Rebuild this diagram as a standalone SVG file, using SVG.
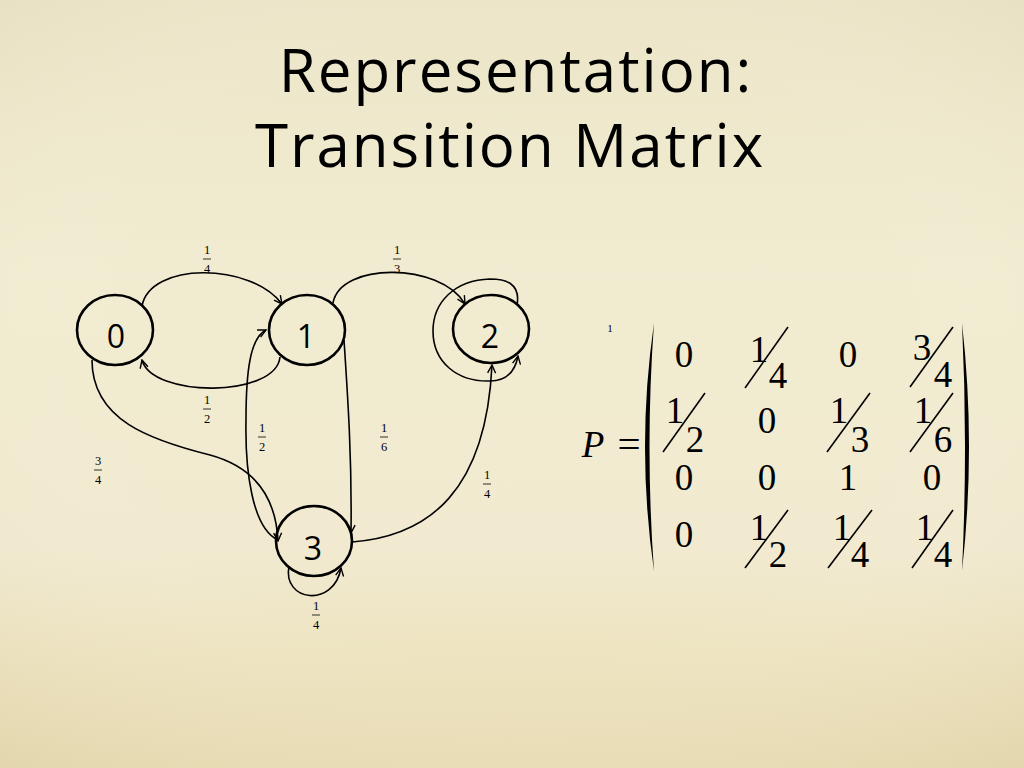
<svg xmlns="http://www.w3.org/2000/svg" width="1024" height="768" viewBox="0 0 1024 768">
<defs>
<linearGradient id="bg" x1="0" y1="0" x2="0" y2="1">
<stop offset="0" stop-color="#ece5c8"/>
<stop offset="0.35" stop-color="#f1ecd1"/>
<stop offset="0.72" stop-color="#f1ead0"/>
<stop offset="0.86" stop-color="#ede3bf"/>
<stop offset="1" stop-color="#e8dcb3"/>
</linearGradient>
<radialGradient id="vig" cx="0.5" cy="0.45" r="0.75">
<stop offset="0.5" stop-color="#ffffff" stop-opacity="0"/>
<stop offset="1" stop-color="#cdbd8e" stop-opacity="0.2"/>
</radialGradient>
<marker id="arr" viewBox="0 0 10 10" refX="9" refY="5" markerWidth="10" markerHeight="10" markerUnits="userSpaceOnUse" orient="auto">
<path d="M1,1 L9,5 L1,9" fill="none" stroke="#000" stroke-width="1.4"/>
</marker>
<style>
.node ellipse{fill:none;stroke:#000;stroke-width:2.6}
.node text{font-family:"Open Sans","Noto Sans",sans-serif;font-size:32px;text-anchor:middle;fill:#000}
.edge{fill:none;stroke:#000;stroke-width:1.6;marker-end:url(#arr)}
.lbl text{font-family:"Liberation Serif",serif;font-size:12.5px;text-anchor:middle;fill:#000}
.lbl line{stroke:#000;stroke-width:0.8}
.title{font-family:"Open Sans","Noto Sans",sans-serif;font-size:60px;letter-spacing:2px;text-anchor:middle;fill:#000}
.m{font-family:"Liberation Serif",serif;font-size:37px;text-anchor:middle;fill:#000}
.sl{stroke:#000;stroke-width:1.6}
</style>
</defs>
<rect width="1024" height="768" fill="url(#bg)"/>
<rect width="1024" height="768" fill="url(#vig)"/>

<text class="title" x="516" y="92">Representation:</text>
<text class="title" x="510" y="167">Transition Matrix</text>

<g id="connectors">
<path class="edge" d="M142,306 C150,262 250,262 282,304"/>
<path class="edge" d="M280,357 C276,398 152,398 142,360"/>
<path class="edge" d="M333,303 C340,262 440,262 465,304"/>
<path class="edge" d="M517,305 C521,283 505,279 490,279 C455,280 433,302 433,331 C433,362 457,382 490,381 C506,381 515,372 518,356"/>
<path class="edge" d="M344,340 C348,400 352,460 351,533"/>
<path class="edge" d="M278,540 C252,528 245,470 246,420 C246,372 250,338 266,330"/>
<path class="edge" d="M92,360 C92,420 150,440 210,455 C258,468 276,500 278,541"/>
<path class="edge" d="M352,542 C430,536 486,490 492,365"/>
<path class="edge" d="M289,566 C282,602 334,608 341,568"/>
</g>

<g id="node0" class="node"><ellipse cx="115" cy="330" rx="38" ry="35"/><text x="116" y="348">0</text></g>
<g id="node1" class="node"><ellipse cx="307" cy="330" rx="38" ry="35"/><text x="306" y="348">1</text></g>
<g id="node2" class="node"><ellipse cx="491" cy="329" rx="38" ry="34"/><text x="490" y="348">2</text></g>
<g id="node3" class="node"><ellipse cx="314" cy="541" rx="38" ry="35"/><text x="313" y="560">3</text></g>

<g id="labels" class="lbl">
<g><text x="207" y="254">1</text><line x1="203" y1="259" x2="211" y2="259"/><text x="207" y="273">4</text></g>
<g><text x="397" y="254">1</text><line x1="393" y1="259" x2="401" y2="259"/><text x="397" y="273">3</text></g>
<g><text x="207" y="404">1</text><line x1="203" y1="409" x2="211" y2="409"/><text x="207" y="423">2</text></g>
<g><text x="262" y="432">1</text><line x1="258" y1="437" x2="266" y2="437"/><text x="262" y="451">2</text></g>
<g><text x="384" y="432">1</text><line x1="380" y1="437" x2="388" y2="437"/><text x="384" y="451">6</text></g>
<g><text x="98" y="465">3</text><line x1="94" y1="470" x2="102" y2="470"/><text x="98" y="484">4</text></g>
<g><text x="487" y="479">1</text><line x1="483" y1="484" x2="491" y2="484"/><text x="487" y="498">4</text></g>
<g><text x="316" y="610">1</text><line x1="312" y1="615" x2="320" y2="615"/><text x="316" y="629">4</text></g>
</g>

<g id="matrix">
<text x="610" y="332" fill="#000" style="font-family:'Liberation Serif',serif;font-size:11px;text-anchor:middle">1</text>
<text class="m" x="593" y="457" style="font-style:italic">P</text>
<text class="m" x="629" y="458" style="font-size:41px">=</text>
<path d="M654,323 Q636,447 654,571 Q645,447 654,323 Z" fill="#000"/>
<path d="M962,323 Q976,447 962,571 Q968,447 962,323 Z" fill="#000"/>

<text class="m" x="684" y="367">0</text>
<text class="m" x="759" y="362">1</text><line class="sl" x1="745" y1="388" x2="788" y2="327"/><text class="m" x="778" y="388">4</text>
<text class="m" x="848" y="367">0</text>
<text class="m" x="922" y="360">3</text><line class="sl" x1="910" y1="387" x2="953" y2="327"/><text class="m" x="943" y="387">4</text>

<text class="m" x="675" y="423">1</text><line class="sl" x1="663" y1="452" x2="705" y2="393"/><text class="m" x="695" y="452">2</text>
<text class="m" x="767" y="433">0</text>
<text class="m" x="839" y="423">1</text><line class="sl" x1="827" y1="452" x2="870" y2="393"/><text class="m" x="860" y="452">3</text>
<text class="m" x="923" y="423">1</text><line class="sl" x1="910" y1="452" x2="953" y2="393"/><text class="m" x="943" y="452">6</text>

<text class="m" x="684" y="490">0</text>
<text class="m" x="767" y="490">0</text>
<text class="m" x="848" y="490">1</text>
<text class="m" x="932" y="490">0</text>

<text class="m" x="684" y="547">0</text>
<text class="m" x="759" y="540">1</text><line class="sl" x1="745" y1="568" x2="788" y2="510"/><text class="m" x="778" y="567">2</text>
<text class="m" x="842" y="540">1</text><line class="sl" x1="828" y1="568" x2="872" y2="510"/><text class="m" x="860" y="567">4</text>
<text class="m" x="925" y="540">1</text><line class="sl" x1="912" y1="568" x2="953" y2="510"/><text class="m" x="943" y="567">4</text>
</g>
</svg>
